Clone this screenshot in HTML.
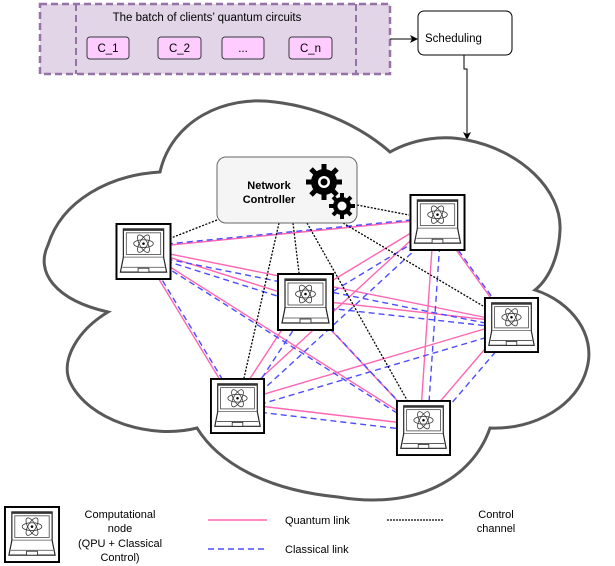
<!DOCTYPE html>
<html><head><meta charset="utf-8"><style>
html,body{margin:0;padding:0;background:#fff}
svg{display:block;font-family:"Liberation Sans",Arial,sans-serif}
</style></head><body>
<svg width="615" height="566" viewBox="0 0 615 566" xmlns="http://www.w3.org/2000/svg">
<defs>
<symbol id="lap" viewBox="0 0 57 58">
<rect x="1" y="1" width="55" height="56" fill="#fff" stroke="#000" stroke-width="2"/>
<rect x="8" y="6" width="41" height="29" fill="#fff" stroke="#222" stroke-width="1.2"/>
<rect x="8" y="6" width="41" height="2" fill="#333"/>
<rect x="11" y="10" width="35" height="22" fill="#fff" stroke="#444" stroke-width="0.8"/>
<g fill="none" stroke="#333" stroke-width="0.8">
<ellipse cx="28.5" cy="21" rx="10" ry="4"/>
<ellipse cx="28.5" cy="21" rx="10" ry="4" transform="rotate(60 28.5 21)"/>
<ellipse cx="28.5" cy="21" rx="10" ry="4" transform="rotate(-60 28.5 21)"/>
</g>
<circle cx="28.5" cy="21" r="1.3" fill="#000"/>
<path d="M8 35 L5 50 L52 50 L49 35" fill="#fff" stroke="#222" stroke-width="1.2"/>
<line x1="7" y1="45" x2="50" y2="45" stroke="#444" stroke-width="0.8"/>
<rect x="23" y="46" width="11" height="4" fill="#fff" stroke="#222" stroke-width="0.8"/>
</symbol>
<marker id="ar" markerWidth="8" markerHeight="8" refX="7" refY="4" orient="auto" markerUnits="userSpaceOnUse">
<path d="M0,0 L8,4 L0,8 L2,4 z" fill="#000"/>
</marker>
</defs>

<!-- batch -->
<rect x="40" y="4" width="350" height="70" fill="#e1d5e7" stroke="#9673a6" stroke-width="2.5" stroke-dasharray="7,4"/>
<line x1="76" y1="4" x2="76" y2="74" stroke="#9673a6" stroke-width="2" stroke-dasharray="7,4"/>
<line x1="356" y1="4" x2="356" y2="74" stroke="#9673a6" stroke-width="2" stroke-dasharray="7,4"/>
<text x="207" y="21" font-size="11.5" text-anchor="middle" fill="#000">The batch of clients’ quantum circuits</text>
<g fill="#ffccff" stroke="#36393d" stroke-width="1">
<rect x="87" y="37" width="42" height="22" rx="3"/>
<rect x="158" y="37" width="43" height="22" rx="3"/>
<rect x="222" y="37" width="42" height="22" rx="3"/>
<rect x="289" y="37" width="43" height="22" rx="3"/>
</g>
<g font-size="11.5" text-anchor="middle" fill="#000">
<text x="108" y="52">C_1</text><text x="179.5" y="52">C_2</text><text x="243" y="52">...</text><text x="310.5" y="52">C_n</text>
</g>
<line x1="390" y1="39" x2="417" y2="39" stroke="#000" stroke-width="1" marker-end="url(#ar)"/>
<rect x="418" y="11" width="94" height="44" rx="6" fill="#fff" stroke="#000" stroke-width="1"/>
<text x="425" y="42" font-size="11.5" fill="#000">Scheduling</text>
<path d="M464 55 L464 69 L467 69 L467 139" fill="none" stroke="#000" stroke-width="1" marker-end="url(#ar)"/>

<!-- cloud -->
<path d="M160 172 C172 120 225 95 275 102 C325 108 365 130 390 152 C415 138 445 135 467 140 C520 150 562 190 560 230 C559 255 550 278 535 290 C572 302 596 335 587 368 C578 405 535 430 490 428 C472 480 415 510 338 497 C265 490 218 462 197 428 C150 440 88 420 70 382 C60 360 78 330 108 312 C55 300 35 272 48 245 C62 200 110 175 160 172 Z" fill="#fff" stroke="#595959" stroke-width="3"/>

<!-- links: quantum -->
<g stroke="#ff66b3" stroke-width="1.4" transform="translate(-3,-3)">
<line x1="143" y1="251" x2="437" y2="222"/>
<line x1="143" y1="251" x2="305" y2="302"/>
<line x1="143" y1="251" x2="511" y2="325"/>
<line x1="143" y1="251" x2="237" y2="406"/>
<line x1="143" y1="251" x2="423" y2="428"/>
<line x1="437" y1="222" x2="305" y2="302"/>
<line x1="437" y1="222" x2="511" y2="325"/>
<line x1="437" y1="222" x2="237" y2="406"/>
<line x1="437" y1="222" x2="423" y2="428"/>
<line x1="305" y1="302" x2="511" y2="325"/>
<line x1="305" y1="302" x2="237" y2="406"/>
<line x1="305" y1="302" x2="423" y2="428"/>
<line x1="511" y1="325" x2="237" y2="406"/>
<line x1="511" y1="325" x2="423" y2="428"/>
<line x1="237" y1="406" x2="423" y2="428"/>
</g>
<g stroke="#4d4dff" stroke-width="1.4" stroke-dasharray="6,4" transform="translate(4,4)">
<line x1="143" y1="242" x2="437" y2="213"/>
<line x1="143" y1="251" x2="305" y2="302"/>
<line x1="143" y1="251" x2="511" y2="325"/>
<line x1="143" y1="251" x2="237" y2="406"/>
<line x1="143" y1="251" x2="423" y2="428"/>
<line x1="437" y1="222" x2="305" y2="302"/>
<line x1="437" y1="222" x2="511" y2="325"/>
<line x1="437" y1="222" x2="237" y2="406"/>
<line x1="437" y1="222" x2="423" y2="428"/>
<line x1="305" y1="302" x2="511" y2="325"/>
<line x1="305" y1="302" x2="237" y2="406"/>
<line x1="305" y1="302" x2="423" y2="428"/>
<line x1="511" y1="325" x2="237" y2="406"/>
<line x1="511" y1="325" x2="423" y2="428"/>
<line x1="237" y1="406" x2="423" y2="428"/>
</g>
<!-- control -->
<g stroke="#000" stroke-width="1.3" stroke-dasharray="2,1.5">
<line x1="217" y1="220" x2="171" y2="238"/>
<line x1="357" y1="205" x2="409" y2="215"/>
<line x1="279" y1="223" x2="244" y2="378"/>
<line x1="293" y1="223" x2="299" y2="273"/>
<line x1="307" y1="223" x2="407" y2="400"/>
<line x1="343" y1="223" x2="483" y2="306"/>
</g>

<!-- network controller -->
<rect x="217" y="157" width="140" height="66" rx="9" fill="#f5f5f5" stroke="#666" stroke-width="1"/>
<text x="269" y="189" font-size="11" font-weight="bold" text-anchor="middle">Network</text>
<text x="269" y="203" font-size="11" font-weight="bold" text-anchor="middle">Controller</text>
<g fill="#000">
<circle cx="324" cy="182" r="13"/>
<g stroke="#000" stroke-width="5">
<line x1="324" y1="164" x2="324" y2="200"/><line x1="306" y1="182" x2="342" y2="182"/>
<line x1="311" y1="169" x2="337" y2="195"/><line x1="337" y1="169" x2="311" y2="195"/>
</g>
<circle cx="324" cy="182" r="6" fill="#fff"/>
<circle cx="324" cy="182" r="3.5" fill="#000"/>
<circle cx="342" cy="206" r="9"/>
<g stroke="#000" stroke-width="4">
<line x1="342" y1="193" x2="342" y2="219"/><line x1="329" y1="206" x2="355" y2="206"/>
<line x1="333" y1="197" x2="351" y2="215"/><line x1="351" y1="197" x2="333" y2="215"/>
</g>
<circle cx="342" cy="206" r="4.5" fill="#fff"/>
</g>

<!-- nodes -->
<use href="#lap" x="115" y="223" width="57" height="57"/>
<use href="#lap" x="409" y="194" width="57" height="57"/>
<use href="#lap" x="277" y="273" width="57" height="58"/>
<use href="#lap" x="483" y="297" width="57" height="56"/>
<use href="#lap" x="209" y="378" width="57" height="56"/>
<use href="#lap" x="395" y="400" width="57" height="56"/>

<!-- legend -->
<use href="#lap" x="3" y="506" width="58" height="57"/>
<g font-size="11" text-anchor="middle" fill="#000">
<text x="120" y="518">Computational</text>
<text x="120" y="532">node</text>
<text x="120" y="547">(QPU + Classical</text>
<text x="120" y="561">Control)</text>
<text x="496" y="518">Control</text>
<text x="496" y="532">channel</text>
</g>
<line x1="208" y1="520" x2="267" y2="520" stroke="#ff66b3" stroke-width="1.4"/>
<text x="285" y="524" font-size="11">Quantum link</text>
<line x1="208" y1="549" x2="267" y2="549" stroke="#4d4dff" stroke-width="1.4" stroke-dasharray="6,4"/>
<text x="285" y="553" font-size="11">Classical link</text>
<line x1="387" y1="520" x2="444" y2="520" stroke="#000" stroke-width="1.3" stroke-dasharray="2,1"/>
</svg>
</body></html>
